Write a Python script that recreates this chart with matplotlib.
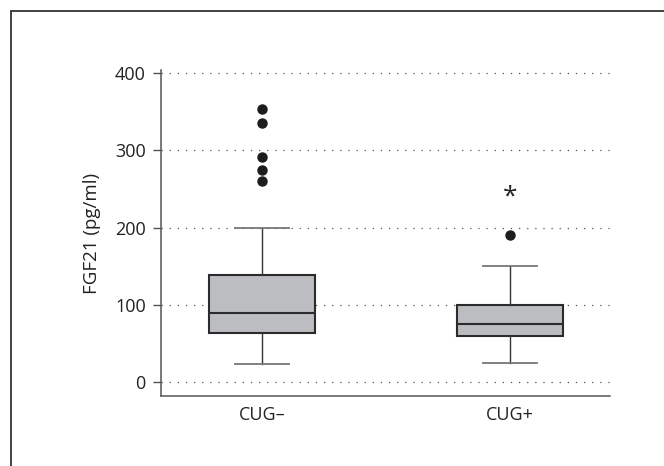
import numpy as np
import matplotlib
matplotlib.use("Agg")
import matplotlib.pyplot as plt
from matplotlib.patches import Rectangle

plt.rcParams['font.family'] = ['Open Sans', 'DejaVu Sans']

# values (pg/ml)
groups   = ['CUG\u2013', 'CUG+']
whislo   = [23, 25]
q1       = [64, 60]
medians  = [89, 75]
q3       = [138, 100]
whishi   = [200, 150]
outliers = [[260, 275, 292, 336, 353], [190]]
yticks   = [0, 100, 200, 300, 400]
star_y   = 240

stats = []
for i in range(len(groups)):
    stats.append(dict(label=groups[i], whislo=whislo[i], q1=q1[i], med=medians[i],
                      q3=q3[i], whishi=whishi[i], fliers=outliers[i]))

fig = plt.figure(figsize=(6.64, 4.66), dpi=100)
ax = fig.add_axes([161/664, 1-396/466, (610-161)/664, (396-70)/466])

# frame around the panel (only top/left visible)
fig.patches.append(Rectangle((11/664, -0.1), 1.2, 0.976+0.1, transform=fig.transFigure,
                             fill=False, edgecolor='#333333', linewidth=1.3))

for y in yticks:
    ax.axhline(y, color='#555555', linestyle=(0, (1, 5.5)), linewidth=0.9, zorder=0)

ax.bxp(stats, positions=[1, 2], widths=0.43, patch_artist=True, showfliers=True,
       boxprops=dict(facecolor='#bcbdc0', edgecolor='#2b2b2b', linewidth=1.5),
       medianprops=dict(color='#2b2b2b', linewidth=1.5),
       whiskerprops=dict(color='#333333', linewidth=1.0),
       capprops=dict(color='#777777', linewidth=1.3),
       capwidths=0.215,
       flierprops=dict(marker='o', markerfacecolor='#1e1c1d', markeredgecolor='#1e1c1d',
                       markersize=6.5), zorder=2)

ax.text(2, star_y, '*', ha='center', va='center', fontsize=19, color='#222222')

ax.set_xlim(0.593, 2.403)
ax.set_ylim(-18, 404)
ax.set_yticks(yticks)
ax.set_xticks([1, 2])
ax.set_xticklabels(groups)
ax.set_ylabel('FGF21 (pg/ml)', fontsize=13.5, color='#222222', labelpad=10)

for s in ['top', 'right']:
    ax.spines[s].set_visible(False)
for s in ['left', 'bottom']:
    ax.spines[s].set_color('#555555')
    ax.spines[s].set_linewidth(1.1)
ax.tick_params(axis='y', length=6, width=1.0, color='#555555', labelsize=13,
               labelcolor='#222222', pad=5)
ax.tick_params(axis='x', length=0, labelsize=13, labelcolor='#222222', pad=7)

fig.savefig('out.png', dpi=100)
